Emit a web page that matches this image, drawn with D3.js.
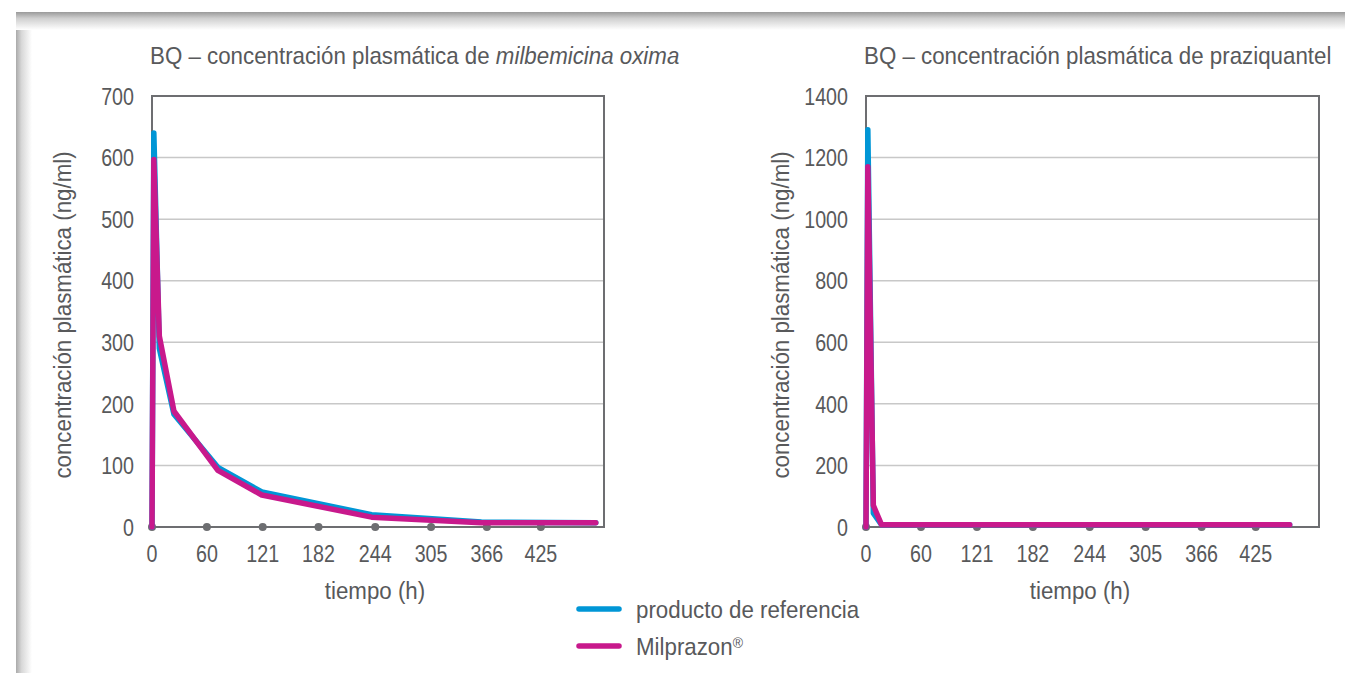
<!DOCTYPE html>
<html>
<head>
<meta charset="utf-8">
<script src="https://cdnjs.cloudflare.com/ajax/libs/d3/7.8.5/d3.min.js"></script>
<style>
  body { margin: 0; background: #fff; }
  svg text { font-family: "Liberation Sans", Arial, sans-serif; fill: #58595b; font-size: 24px; }
</style>
</head>
<body>
<div id="chart"></div>
<script>
// tick labels shared by both panels
var xTicks = [0, 60, 121, 182, 244, 305, 366, 425];
var yTicksMil = [0, 100, 200, 300, 400, 500, 600, 700];
var yTicksPraz = [0, 200, 400, 600, 800, 1000, 1200, 1400];

// milbemicina oxima
var timesMil = [0, 2, 8, 24, 72, 120, 240, 360, 485];
var refMil = [0, 640, 290, 183, 97, 57, 20, 8, 7];
var milMil = [0, 597, 310, 188, 92, 52, 16, 7, 7];

// praziquantel
var timesPraz = [0, 2, 8, 17, 24, 72, 120, 240, 360, 462];
var refPraz = [0, 1290, 45, 7, 7, 7, 7, 7, 7, 7];
var milPraz = [0, 1170, 70, 7, 7, 7, 7, 7, 7, 7];

var series = ["producto de referencia", "Milprazon"];
var colors = ["#0096d6", "#c8198c"];

var W = 1345, H = 673;
// the original face is a condensed one: squeeze Liberation Sans a bit
var NUM_SX = 0.82, TXT_SX = 0.93;

var svg = d3.select("#chart").append("svg")
  .attr("width", W).attr("height", H);

function tr(x, y, sx, rot) {
  return "translate(" + x + "," + y + ")" + (rot ? " rotate(" + rot + ")" : "") + " scale(" + sx + ",1)";
}

// card shadow along top and left
var defs = svg.append("defs");
var gTop = defs.append("linearGradient").attr("id", "shTop")
  .attr("x1", 0).attr("y1", 0).attr("x2", 0).attr("y2", 1);
gTop.append("stop").attr("offset", 0).attr("stop-color", "#9a9a9a");
gTop.append("stop").attr("offset", 0.35).attr("stop-color", "#cfcfcf");
gTop.append("stop").attr("offset", 1).attr("stop-color", "#fff");
var gLeft = defs.append("linearGradient").attr("id", "shLeft")
  .attr("x1", 0).attr("y1", 0).attr("x2", 1).attr("y2", 0);
gLeft.append("stop").attr("offset", 0).attr("stop-color", "#aaaaaa");
gLeft.append("stop").attr("offset", 0.35).attr("stop-color", "#d8d8d8");
gLeft.append("stop").attr("offset", 1).attr("stop-color", "#fff");

svg.append("rect").attr("x", 16).attr("y", 12).attr("width", 16).attr("height", H - 12)
  .attr("fill", "url(#shLeft)");
svg.append("rect").attr("x", 16).attr("y", 12).attr("width", W - 16).attr("height", 18)
  .attr("fill", "url(#shTop)");

function panel(opt) {
  var x = d3.scaleLinear().domain([0, 494]).range([opt.left, opt.right]);
  var y = d3.scaleLinear().domain([0, opt.yMax]).range([527, 96]);
  var g = svg.append("g");

  // grid
  g.selectAll(".grid").data(opt.yTicks.slice(1, -1)).enter().append("line")
    .attr("x1", opt.left).attr("x2", opt.right)
    .attr("y1", function(d) { return y(d); }).attr("y2", function(d) { return y(d); })
    .attr("stroke", "#c8c8c8").attr("stroke-width", 1.5);

  // frame
  g.append("rect")
    .attr("x", opt.left).attr("y", y(opt.yMax))
    .attr("width", opt.right - opt.left).attr("height", y(0) - y(opt.yMax))
    .attr("fill", "none").attr("stroke", "#6d6e71").attr("stroke-width", 2);

  // y labels
  g.selectAll(".yl").data(opt.yTicks).enter().append("text")
    .attr("transform", function(d) { return tr(opt.left - 18, y(d), NUM_SX); })
    .attr("dy", "0.36em").attr("text-anchor", "end")
    .text(function(d) { return d; });

  // x tick dots and labels
  g.selectAll(".xd").data(xTicks).enter().append("circle")
    .attr("cx", function(d) { return x(d); }).attr("cy", y(0))
    .attr("r", 4).attr("fill", "#6d6e71");
  g.selectAll(".xl").data(xTicks).enter().append("text")
    .attr("transform", function(d) { return tr(x(d), 553, NUM_SX); })
    .attr("dy", "0.36em").attr("text-anchor", "middle")
    .text(function(d) { return d; });

  // axis titles
  g.append("text")
    .attr("transform", tr(opt.xTitleX, 590, TXT_SX))
    .attr("dy", "0.36em").attr("text-anchor", "middle")
    .text("tiempo (h)");
  g.append("text")
    .attr("transform", tr(opt.yTitleX, 315, TXT_SX, -90))
    .attr("dy", "0.36em").attr("text-anchor", "middle")
    .text("concentración plasmática (ng/ml)");

  // title
  var t = g.append("text").attr("transform", tr(opt.left - 2, 64, TXT_SX));
  t.append("tspan").text("BQ – concentración plasmática de ");
  t.append("tspan").style("font-style", opt.italic ? "italic" : "normal").text(opt.drug);

  // lines
  var line = d3.line()
    .x(function(d) { return x(d[0]); })
    .y(function(d) { return y(d[1]); });
  opt.values.forEach(function(vals, i) {
    g.append("path")
      .datum(opt.times.map(function(t, j) { return [t, vals[j]]; }))
      .attr("d", line)
      .attr("fill", "none")
      .attr("stroke", colors[i])
      .attr("stroke-width", 5.5)
      .attr("stroke-linejoin", "round")
      .attr("stroke-linecap", "round");
  });
}

panel({ left: 152, right: 604, yMax: 700, yTicks: yTicksMil, yTitleX: 62, xTitleX: 375,
  times: timesMil, values: [refMil, milMil], drug: "milbemicina oxima", italic: true });
panel({ left: 866, right: 1319, yMax: 1400, yTicks: yTicksPraz, yTitleX: 780, xTitleX: 1080,
  times: timesPraz, values: [refPraz, milPraz], drug: "praziquantel", italic: false });

// legend
var leg = svg.append("g").selectAll("g").data(series).enter().append("g")
  .attr("transform", function(d, i) { return "translate(0," + (609 + i * 37) + ")"; });
leg.append("line").attr("x1", 579).attr("x2", 619)
  .attr("stroke", function(d, i) { return colors[i]; })
  .attr("stroke-width", 5.5).attr("stroke-linecap", "round");
var lt = leg.append("text").attr("transform", tr(636, 0, TXT_SX)).attr("dy", "0.36em");
lt.append("tspan").text(function(d) { return d; });
lt.filter(function(d, i) { return i === 1; }).append("tspan")
  .attr("dy", "-0.45em").style("font-size", "15px").text("®");
</script>
</body>
</html>
